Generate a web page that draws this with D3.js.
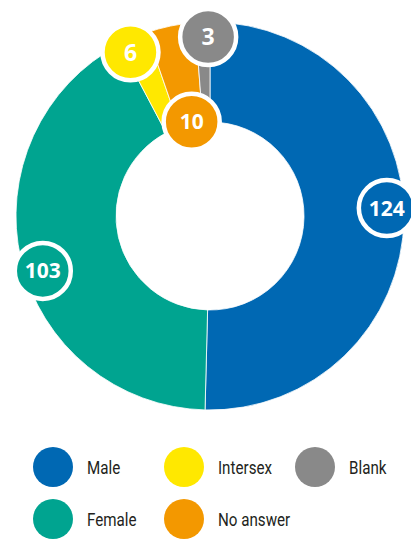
<!DOCTYPE html>
<html>
<head>
<meta charset="utf-8">
<script src="https://cdn.jsdelivr.net/npm/d3@7"></script>
<style>
  html, body { margin: 0; padding: 0; background: #fff; }
  svg { display: block; }
</style>
</head>
<body>
<div id="donut"></div>
<script>
// Data
var categories = ['Male', 'Female', 'Intersex', 'No answer', 'Blank'];
var counts = [124, 103, 6, 10, 3];
var colours = ['#0068b3', '#00a490', '#ffe800', '#f39800', '#898989'];

var width = 411, height = 541;
var cx = 210, cy = 216;
var outerR = 194, innerR = 94;

// where each value bubble sits (radius from centre, small angle nudge in degrees)
var bubbleLayout = {
  'Male':      { r: 177, nudge: -3.3 },
  'Female':    { r: 176, nudge: -5 },
  'Intersex':  { r: 182, nudge: -2.5 },
  'No answer': { r: 96,  nudge: 0.7 },
  'Blank':     { r: 179, nudge: 1.6 }
};

var svg = d3.select('#donut')
  .append('svg')
  .attr('width', width)
  .attr('height', height);

var colour = d3.scaleOrdinal().domain(categories).range(colours);

var rows = categories.map(function(c, i) { return { label: c, value: counts[i] }; });

var pie = d3.pie().sort(null).value(d => d.value);
var arc = d3.arc().innerRadius(innerR).outerRadius(outerR);

var g = svg.append('g')
  .attr('transform', 'translate(' + cx + ',' + cy + ')');

var slices = pie(rows);

g.selectAll('path')
  .data(slices)
  .join('path')
  .attr('d', arc)
  .attr('fill', d => colour(d.data.label))
  .attr('stroke', '#fff')
  .attr('stroke-width', 0.8);

// value bubbles
function bubblePos(d) {
  var lay = bubbleLayout[d.data.label];
  var a = (d.startAngle + d.endAngle) / 2 + lay.nudge * Math.PI / 180;
  return [Math.sin(a) * lay.r, -Math.cos(a) * lay.r];
}

var bubbles = g.selectAll('g.bubble')
  .data(slices)
  .join('g')
  .attr('class', 'bubble')
  .attr('transform', d => 'translate(' + bubblePos(d) + ')');

bubbles.append('circle')
  .attr('r', 28)
  .attr('fill', d => colour(d.data.label))
  .attr('stroke', '#fff')
  .attr('stroke-width', 4.5);

bubbles.append('text')
  .attr('text-anchor', 'middle')
  .attr('dy', '0.36em')
  .style('font-family', '"Open Sans", sans-serif')
  .style('font-weight', 'bold')
  .style('font-size', d => (String(d.data.value).length === 1 ? 23 : 21) + 'px')
  .style('fill', '#fff')
  .text(d => d.data.value);

// legend, two rows filled column by column
var legend = svg.append('g').attr('class', 'legend');

var items = legend.selectAll('g')
  .data(categories)
  .join('g')
  .attr('transform', function(d, i) {
    var col = Math.floor(i / 2), row = i % 2;
    return 'translate(' + (53 + col * 131) + ',' + (467 + row * 52) + ')';
  });

items.append('circle')
  .attr('r', 20)
  .attr('fill', d => colour(d));

// no condensed face installed, so squeeze Roboto sideways
items.append('text')
  .attr('transform', 'translate(34,0) scale(0.82,1)')
  .attr('dy', '0.36em')
  .style('font-family', 'Roboto, sans-serif')
  .style('font-size', '18.5px')
  .style('fill', '#231f20')
  .text(d => d);
</script>
</body>
</html>
